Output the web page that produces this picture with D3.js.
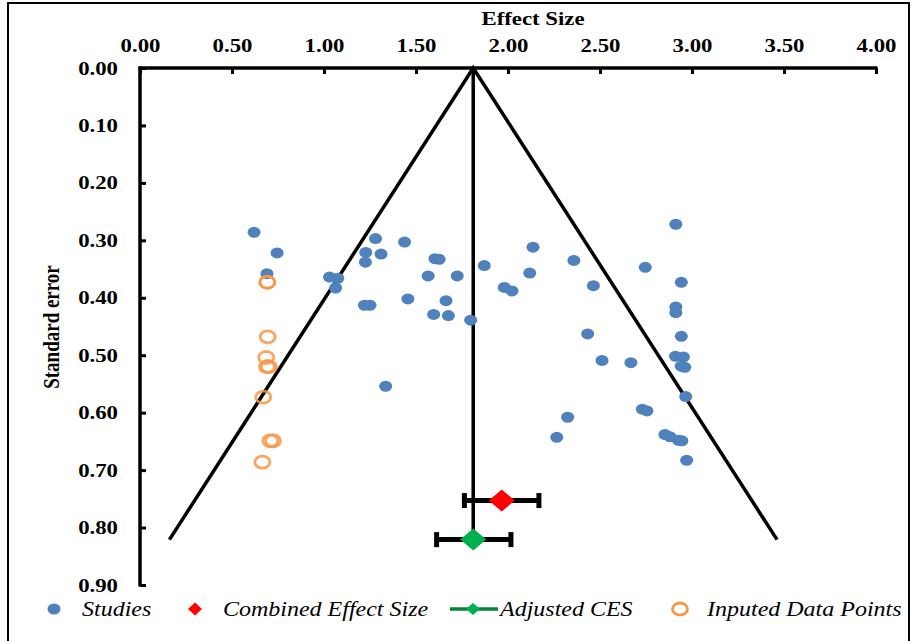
<!DOCTYPE html>
<html>
<head>
<meta charset="utf-8">
<script src="https://cdn.jsdelivr.net/npm/d3@7"></script>
<style>
  html, body { margin: 0; padding: 0; background: #fff; }
  svg { display: block; }
</style>
</head>
<body>
<script>
// ---------- DATA ----------
const xTicks = [0, 0.5, 1, 1.5, 2, 2.5, 3, 3.5, 4];
const yTicks = [0, 0.1, 0.2, 0.3, 0.4, 0.5, 0.6, 0.7, 0.8, 0.9];

// Studies: [effect size, standard error]
const studies = [
  [0.62, 0.286], [0.745, 0.322], [0.69, 0.358], [1.03, 0.364], [1.075, 0.366],
  [1.063, 0.383], [1.28, 0.297], [1.227, 0.321], [1.31, 0.324], [1.225, 0.338],
  [1.438, 0.303], [1.603, 0.332], [1.626, 0.333], [1.566, 0.362], [1.22, 0.413],
  [1.25, 0.413], [1.456, 0.402], [1.663, 0.405], [1.596, 0.429], [1.676, 0.431],
  [1.335, 0.554], [1.724, 0.362], [1.797, 0.439], [1.871, 0.344], [1.98, 0.382],
  [2.022, 0.388], [2.136, 0.312], [2.118, 0.357], [2.358, 0.335], [2.464, 0.379],
  [2.746, 0.347], [2.433, 0.463], [2.511, 0.509], [2.668, 0.513], [2.73, 0.594],
  [2.755, 0.597], [2.324, 0.608], [2.265, 0.643], [2.912, 0.272], [2.942, 0.373],
  [2.912, 0.416], [2.912, 0.426], [2.942, 0.467], [2.91, 0.502], [2.953, 0.503],
  [2.941, 0.519], [2.961, 0.521], [2.966, 0.572], [2.853, 0.638], [2.881, 0.642],
  [2.926, 0.648], [2.945, 0.649], [2.971, 0.683]
];

// Imputed data points: [effect size, standard error]
const imputed = [
  [0.692, 0.373], [0.692, 0.373], [0.694, 0.468], [0.686, 0.504], [0.69, 0.52],
  [0.70, 0.52], [0.67, 0.573], [0.708, 0.649], [0.723, 0.649], [0.665, 0.686]
];

// Combined effect size and adjusted CES: [estimate, se position, lower CI, upper CI]
const combinedCES = [1.966, 0.753, 1.763, 2.168];
const adjustedCES = [1.811, 0.821, 1.612, 2.016];

// Funnel: [effect size, standard error]
const funnel = [[0.16, 0.821], [1.811, 0], [3.462, 0.821]];
const centerLine = [[1.811, 0], [1.811, 0.821]];

const legendLabels = ["Studies", "Combined Effect Size", "Adjusted CES", "Inputed Data Points"];

// ---------- LAYOUT ----------
const W = 911, H = 641;
const SX = 1.2; // horizontal text stretch seen in the reference
const svg = d3.select("body").append("svg").attr("width", W).attr("height", H);

const x = d3.scaleLinear().domain([0, 4]).range([140, 876]);
const y = d3.scaleLinear().domain([0, 0.9]).range([68, 585]);

const serif = "'Liberation Serif', 'Times New Roman', serif";
const blue = "#4F81BD", orange = "#F79646", red = "#FF0000", green = "#00B050", dgreen = "#00843D";

// border
svg.append("rect").attr("x", 8).attr("y", 3).attr("width", 901).attr("height", 645)
  .attr("fill", "none").attr("stroke", "#000").attr("stroke-width", 2);

function stretchedText(g, tx, ty, str, opts) {
  const t = g.append("text")
    .attr("transform", `translate(${tx},${ty}) scale(${SX},1)`)
    .attr("font-family", serif)
    .attr("font-size", opts.size)
    .attr("font-weight", opts.weight || "normal")
    .attr("font-style", opts.style || "normal")
    .attr("text-anchor", opts.anchor || "start")
    .attr("fill", "#000")
    .text(str);
  return t;
}

// ---------- AXES ----------
const xAxis = d3.axisTop(x).tickValues(xTicks).tickFormat(d3.format(".2f"))
  .tickSizeInner(-6).tickSizeOuter(0).tickPadding(16);
const gx = svg.append("g").attr("transform", "translate(0,68)").call(xAxis);
gx.select(".domain").attr("stroke", "#000").attr("stroke-width", 3.5)
  .attr("d", `M${x(0) - 1.5},0H${x(4) + 1.5}`);
gx.selectAll(".tick line").attr("stroke", "#000").attr("stroke-width", 3);
gx.selectAll(".tick text")
  .attr("font-family", serif).attr("font-size", 19).attr("font-weight", "bold")
  .attr("fill", "#000").attr("transform", `scale(${SX},1)`);

const yAxis = d3.axisLeft(y).tickValues(yTicks).tickFormat(d3.format(".2f"))
  .tickSizeInner(-6).tickSizeOuter(0).tickPadding(22);
const gy = svg.append("g").attr("transform", "translate(140,0)").call(yAxis);
gy.select(".domain").attr("stroke", "#000").attr("stroke-width", 3.5)
  .attr("d", `M0,${y(0) - 1.5}V${y(0.9) + 1.5}`);
gy.selectAll(".tick line").attr("stroke", "#000").attr("stroke-width", 3);
gy.selectAll(".tick text")
  .attr("font-family", serif).attr("font-size", 19).attr("font-weight", "bold")
  .attr("fill", "#000").attr("x", -22 / SX).attr("transform", `scale(${SX},1)`);

// axis titles
stretchedText(svg, 533, 25, "Effect Size", { size: 19, weight: "bold", anchor: "middle" });
svg.append("text")
  .attr("transform", `translate(59,327) rotate(-90) scale(1,${SX})`)
  .attr("font-family", serif).attr("font-size", 19).attr("font-weight", "bold")
  .attr("text-anchor", "middle").attr("fill", "#000")
  .text("Standard error");

// ---------- FUNNEL ----------
const line = d3.line().x(d => x(d[0])).y(d => y(d[1]));
svg.append("path").datum(funnel).attr("d", line)
  .attr("fill", "none").attr("stroke", "#000").attr("stroke-width", 3.5).attr("stroke-linejoin", "miter");
svg.append("path").datum(centerLine).attr("d", line)
  .attr("fill", "none").attr("stroke", "#000").attr("stroke-width", 3.5);

// ---------- POINTS ----------
svg.append("g").selectAll("ellipse").data(studies).join("ellipse")
  .attr("cx", d => x(d[0])).attr("cy", d => y(d[1]))
  .attr("rx", 6.5).attr("ry", 5.5).attr("fill", blue);

svg.append("g").selectAll("ellipse").data(imputed).join("ellipse")
  .attr("cx", d => x(d[0])).attr("cy", d => y(d[1]))
  .attr("rx", 7.5).attr("ry", 6).attr("fill", "none")
  .attr("stroke", orange).attr("stroke-width", 2.8).attr("stroke-opacity", 0.85);

// ---------- CES with CI ----------
function ciBar(d, color) {
  const g = svg.append("g");
  const cy = y(d[1]);
  g.append("line").attr("x1", x(d[2])).attr("x2", x(d[3])).attr("y1", cy).attr("y2", cy)
    .attr("stroke", "#000").attr("stroke-width", 5);
  [d[2], d[3]].forEach(v => {
    g.append("line").attr("x1", x(v)).attr("x2", x(v)).attr("y1", cy - 7.5).attr("y2", cy + 7.5)
      .attr("stroke", "#000").attr("stroke-width", 5);
  });
  const cx = x(d[0]);
  g.append("path")
    .attr("d", `M${cx - 13},${cy}L${cx},${cy - 11}L${cx + 13},${cy}L${cx},${cy + 11}Z`)
    .attr("fill", color);
}
ciBar(combinedCES, red);
ciBar(adjustedCES, green);

// ---------- LEGEND ----------
const lg = svg.append("g");
const ly = 609, lb = 616;
lg.append("ellipse").attr("cx", 54).attr("cy", ly).attr("rx", 6.5).attr("ry", 5.5).attr("fill", blue);
stretchedText(lg, 82, lb, legendLabels[0], { size: 20, style: "italic" });
lg.append("path").attr("d", `M188,${ly}L195,${ly - 6.5}L202,${ly}L195,${ly + 6.5}Z`).attr("fill", red);
stretchedText(lg, 223, lb, legendLabels[1], { size: 20, style: "italic" });
lg.append("line").attr("x1", 450).attr("x2", 498).attr("y1", ly).attr("y2", ly)
  .attr("stroke", dgreen).attr("stroke-width", 3.5);
lg.append("path").attr("d", `M466,${ly}L473,${ly - 6}L480,${ly}L473,${ly + 6}Z`).attr("fill", green);
stretchedText(lg, 500, lb, legendLabels[2], { size: 20, style: "italic" });
lg.append("ellipse").attr("cx", 680).attr("cy", ly).attr("rx", 7.5).attr("ry", 6)
  .attr("fill", "none").attr("stroke", orange).attr("stroke-width", 2.8);
stretchedText(lg, 707, lb, legendLabels[3], { size: 20, style: "italic" });
</script>
</body>
</html>
